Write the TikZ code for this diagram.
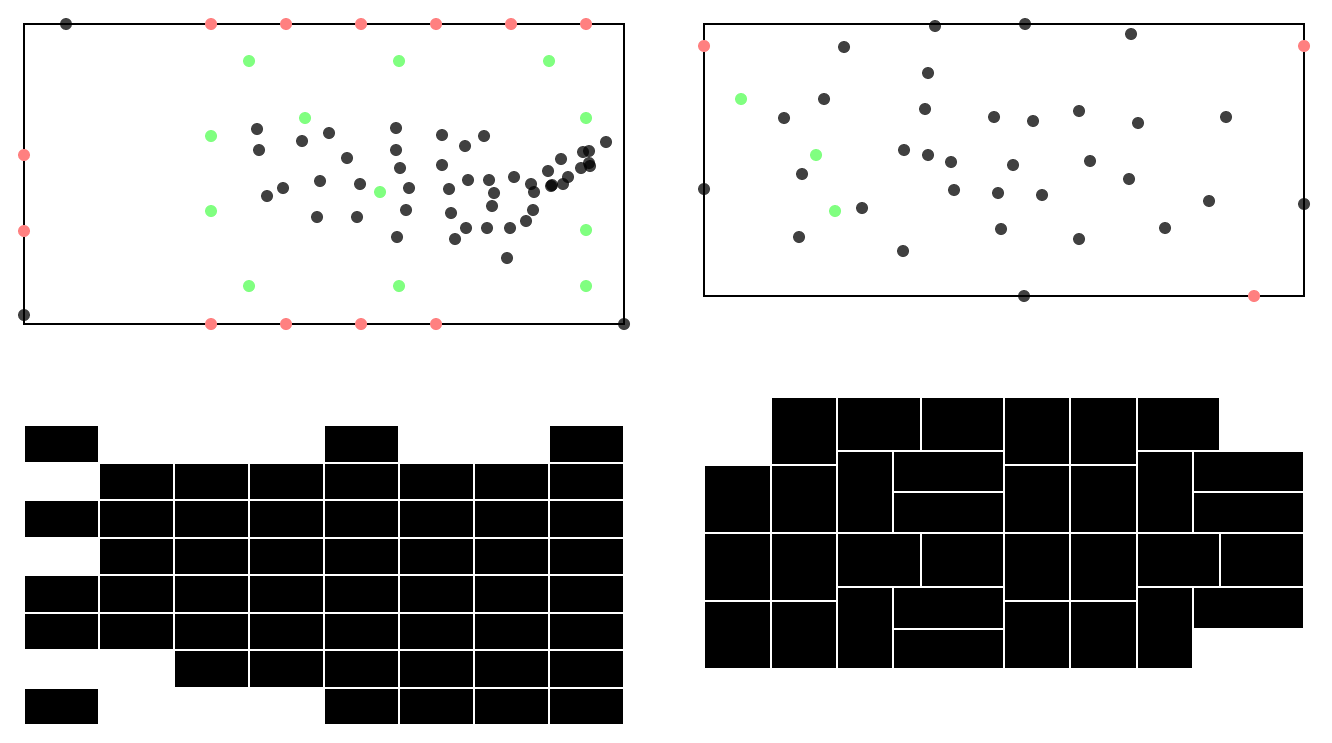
\documentclass[tikz,border=0pt]{standalone}
\begin{document}
\begin{tikzpicture}[x=1pt,y=-1pt,
  frame/.style={draw=black,line width=1.6pt},
  darkdot/.style={fill=black,fill opacity=0.75},
  reddot/.style={fill=red!50},
  greendot/.style={fill=green!50},
  cell/.style={fill=black,draw=white,line width=2pt}]
\useasboundingbox (0,0) rectangle (1332,742);
% ---- top left panel
\draw[frame] (24,24) rectangle (624,324);
\foreach \p in {(66,24),(24,315),(624,324),
(257,129),(259,150),(302,141),(329,133),(320,181),(283,188),(267,196),(317,217),
(347,158),(360,184),(357,217),(396,128),(396,150),(400,168),(409,188),(406,210),(397,237),
(442,135),(442,165),(465,146),(484,136),(449,189),(468,180),(489,180),(494,193),(492,206),(451,213),(466,228),(455,239),(487,228),(510,228),(526,221),(533,210),(507,258),(514,177),(531,184),(534,192),(548,171),(551,186),(552,185),(563,184),(568,177),(561,159),(583,152),(589,151),(581,168),(589,163),(590,166),(606,142)}
  \fill[darkdot] \p circle[radius=6pt];
\foreach \p in {(211,24),(286,24),(361,24),(436,24),(511,24),(586,24),(24,155),(24,231),(211,324),(286,324),(361,324),(436,324)}
  \fill[reddot] \p circle[radius=6pt];
\foreach \p in {(249,61),(399,61),(549,61),(305,118),(211,136),(211,211),(249,286),(586,118),(586,230),(586,286),(399,286),(380,192)}
  \fill[greendot] \p circle[radius=6pt];
% ---- top right panel
\draw[frame] (704,24) rectangle (1304,296);
\foreach \p in {(844,47),(935,26),(928,73),(824,99),(784,118),(925,109),(994,117),(904,150),(928,155),(951,162),(802,174),(704,189),(954,190),(998,193),(862,208),(799,237),(903,251),(1001,229),(1025,24),(1131,34),(1079,111),(1033,121),(1138,123),(1226,117),(1013,165),(1090,161),(1129,179),(1042,195),(1209,201),(1304,204),(1165,228),(1079,239),(1024,296)}
  \fill[darkdot] \p circle[radius=6pt];
\foreach \p in {(704,46),(1304,46),(1254,296)}
  \fill[reddot] \p circle[radius=6pt];
\foreach \p in {(741,99),(816,155),(835,211)}
  \fill[greendot] \p circle[radius=6pt];
% ---- bottom left grid
\foreach \r/\cols in {0/{0,4,7},1/{1,2,3,4,5,6,7},2/{0,1,2,3,4,5,6,7},3/{1,2,3,4,5,6,7},4/{0,1,2,3,4,5,6,7},5/{0,1,2,3,4,5,6,7},6/{2,3,4,5,6,7},7/{0,4,5,6,7}}
  \foreach \c in \cols
    \path[cell] ({24+75*\c},{425+37.5*\r}) rectangle ({99+75*\c},{462.5+37.5*\r});
% ---- bottom right mosaic
\foreach \y in {464.6,532.6,600.6}
  \path[cell] (704,\y) rectangle (770.5,\y+68);
\foreach \x/\xx in {770.5/837,1004.2/1070.3,1070.3/1137.2}
  \foreach \y in {396.6,464.6,532.6,600.6}
    \path[cell] (\x,\y) rectangle (\xx,\y+68);
% middle block
\path[cell] (837,396.6) rectangle (920.5,451);
\path[cell] (920.5,396.6) rectangle (1004.2,451);
\path[cell] (837,451) rectangle (892.9,532.6);
\path[cell] (892.9,451) rectangle (1004.2,492);
\path[cell] (892.9,492) rectangle (1004.2,532.6);
\path[cell] (837,532.6) rectangle (920.5,587.3);
\path[cell] (920.5,532.6) rectangle (1004.2,587.3);
\path[cell] (837,587.3) rectangle (892.9,668.6);
\path[cell] (892.9,587.3) rectangle (1004.2,628.5);
\path[cell] (892.9,628.5) rectangle (1004.2,668.6);
% right block
\path[cell] (1137.2,396.6) rectangle (1220.3,451);
\path[cell] (1137.2,451) rectangle (1192.7,532.6);
\path[cell] (1192.7,451) rectangle (1304,492);
\path[cell] (1192.7,492) rectangle (1304,532.6);
\path[cell] (1137.2,532.6) rectangle (1220.3,587.3);
\path[cell] (1220.3,532.6) rectangle (1304,587.3);
\path[cell] (1137.2,587.3) rectangle (1192.7,668.6);
\path[cell] (1192.7,587.3) rectangle (1304,628.5);
\end{tikzpicture}
\end{document}
